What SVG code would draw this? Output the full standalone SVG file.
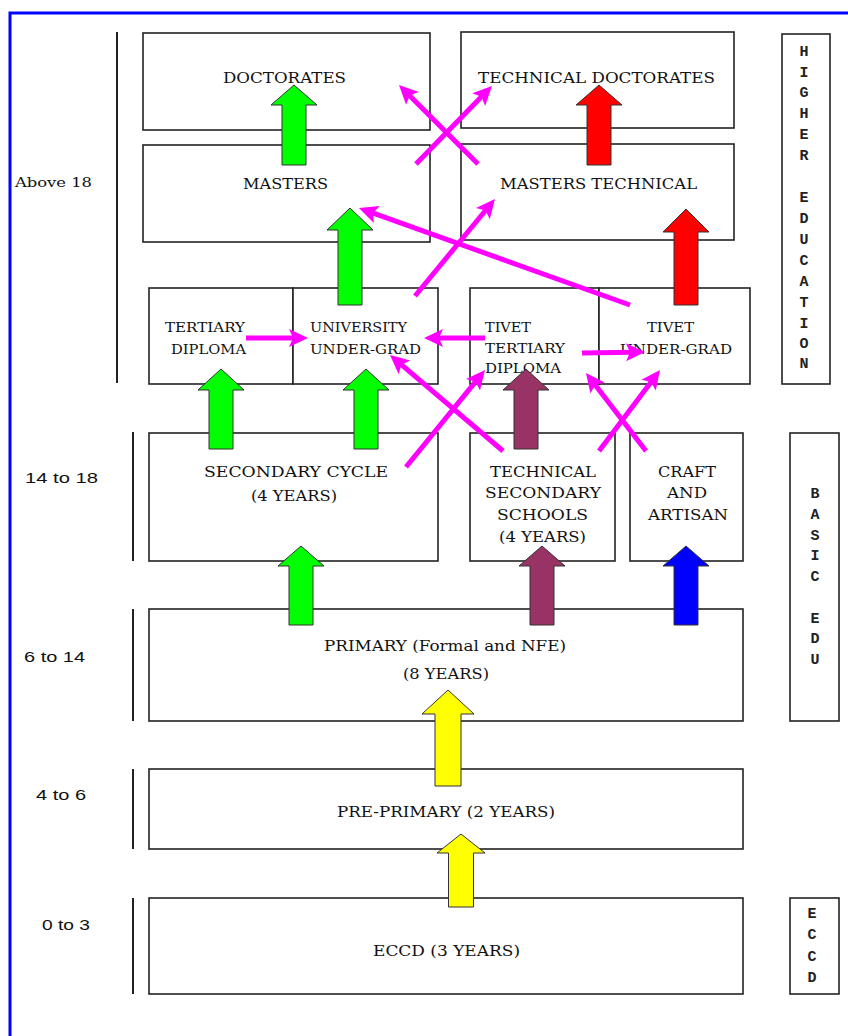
<svg xmlns="http://www.w3.org/2000/svg" width="848" height="1036" viewBox="0 0 848 1036">
<defs>
<style>
.box{fill:#fff;stroke:#222;stroke-width:1.6}
.sep{stroke:#222;stroke-width:2}
.t{font-family:"DejaVu Serif","Liberation Serif",serif;font-size:15px;fill:#111}
.s{font-family:"DejaVu Serif","Liberation Serif",serif;font-size:13px;fill:#111}
.age{font-family:"Liberation Sans",Arial,sans-serif;font-size:15px;fill:#111}
.side{font-family:"Liberation Mono","Courier New",monospace;font-size:15px;font-weight:bold;fill:#222;text-anchor:middle}
.blk{stroke:#333;stroke-width:1;stroke-linejoin:miter}
.g{fill:#00FF00}.r{fill:#FF0000}.p{fill:#993366}.b{fill:#0000FF}.y{fill:#FFFF00}
.m{stroke:#FF00FF;stroke-width:5;fill:none;marker-end:url(#mh)}
</style>
<marker id="mh" viewBox="-8 -10 24 20" refX="0" refY="0" markerWidth="24" markerHeight="20" markerUnits="userSpaceOnUse" orient="auto">
<path d="M13,0 L-6,-9 L-2,0 L-6,9 Z" fill="#FF00FF"/>
</marker>
</defs>
<rect width="848" height="1036" fill="#fff"/>
<path d="M10,1036 V13 H848" fill="none" stroke="#0000FF" stroke-width="3"/>

<g id="age-separators">
<line class="sep" x1="117" y1="32" x2="117" y2="383"/>
<line class="sep" x1="133" y1="432" x2="133" y2="561"/>
<line class="sep" x1="133" y1="609" x2="133" y2="721"/>
<line class="sep" x1="133" y1="769" x2="133" y2="849"/>
<line class="sep" x1="133" y1="898" x2="133" y2="994"/>
</g>
<g id="age-labels">
<text class="s" x="15" y="187" textLength="77" lengthAdjust="spacingAndGlyphs">Above 18</text>
<text class="age" x="25" y="483" textLength="73" lengthAdjust="spacingAndGlyphs">14 to 18</text>
<text class="age" x="24" y="662" textLength="61" lengthAdjust="spacingAndGlyphs">6 to 14</text>
<text class="age" x="36" y="800" textLength="50" lengthAdjust="spacingAndGlyphs">4 to 6</text>
<text class="age" x="42" y="930" textLength="48" lengthAdjust="spacingAndGlyphs">0 to 3</text>
</g>

<g id="doctorates">
<rect class="box" x="143" y="33" width="287" height="97"/>
<text class="t" x="223" y="83" textLength="123" lengthAdjust="spacingAndGlyphs">DOCTORATES</text>
</g>
<g id="technical-doctorates">
<rect class="box" x="461" y="32" width="273" height="96"/>
<text class="t" x="478" y="83" textLength="237" lengthAdjust="spacingAndGlyphs">TECHNICAL DOCTORATES</text>
</g>
<g id="masters">
<rect class="box" x="143" y="145" width="287" height="97"/>
<text class="t" x="243" y="189" textLength="85" lengthAdjust="spacingAndGlyphs">MASTERS</text>
</g>
<g id="masters-technical">
<rect class="box" x="461" y="144" width="273" height="96"/>
<text class="t" x="500" y="189" textLength="197" lengthAdjust="spacingAndGlyphs">MASTERS TECHNICAL</text>
</g>

<g id="tertiary-diploma">
<rect class="box" x="149" y="288" width="144" height="96"/>
<text class="s" x="165" y="332" textLength="80" lengthAdjust="spacingAndGlyphs">TERTIARY</text>
<text class="s" x="171" y="354" textLength="75" lengthAdjust="spacingAndGlyphs">DIPLOMA</text>
</g>
<g id="university-undergrad">
<rect class="box" x="293" y="288" width="145" height="96"/>
<text class="s" x="310" y="332" textLength="97" lengthAdjust="spacingAndGlyphs">UNIVERSITY</text>
<text class="s" x="310" y="354" textLength="111" lengthAdjust="spacingAndGlyphs">UNDER-GRAD</text>
</g>
<g id="tivet-tertiary-diploma">
<rect class="box" x="470" y="288" width="129" height="96"/>
<text class="s" x="485" y="332" textLength="46" lengthAdjust="spacingAndGlyphs">TIVET</text>
<text class="s" x="485" y="353" textLength="80" lengthAdjust="spacingAndGlyphs">TERTIARY</text>
<text class="s" x="485" y="373" textLength="76" lengthAdjust="spacingAndGlyphs">DIPLOMA</text>
</g>
<g id="tivet-undergrad">
<rect class="box" x="599" y="288" width="151" height="96"/>
<text class="s" x="647" y="332" textLength="47" lengthAdjust="spacingAndGlyphs">TIVET</text>
<text class="s" x="620" y="354" textLength="112" lengthAdjust="spacingAndGlyphs">UNDER-GRAD</text>
</g>

<g id="secondary-cycle">
<rect class="box" x="149" y="433" width="289" height="128"/>
<text class="t" x="204" y="477" textLength="184" lengthAdjust="spacingAndGlyphs">SECONDARY CYCLE</text>
<text class="t" x="251" y="501" textLength="86" lengthAdjust="spacingAndGlyphs">(4 YEARS)</text>
</g>
<g id="technical-secondary">
<rect class="box" x="470" y="433" width="145" height="128"/>
<text class="t" x="490" y="477" textLength="106" lengthAdjust="spacingAndGlyphs">TECHNICAL</text>
<text class="t" x="485" y="498" textLength="116" lengthAdjust="spacingAndGlyphs">SECONDARY</text>
<text class="t" x="497" y="520" textLength="91" lengthAdjust="spacingAndGlyphs">SCHOOLS</text>
<text class="t" x="499" y="542" textLength="87" lengthAdjust="spacingAndGlyphs">(4 YEARS)</text>
</g>
<g id="craft-artisan">
<rect class="box" x="630" y="433" width="113" height="128"/>
<text class="t" x="658" y="477" textLength="58" lengthAdjust="spacingAndGlyphs">CRAFT</text>
<text class="t" x="667" y="498" textLength="40" lengthAdjust="spacingAndGlyphs">AND</text>
<text class="t" x="648" y="520" textLength="80" lengthAdjust="spacingAndGlyphs">ARTISAN</text>
</g>

<g id="primary">
<rect class="box" x="149" y="609" width="594" height="112"/>
<text class="t" x="324" y="651" textLength="242" lengthAdjust="spacingAndGlyphs">PRIMARY (Formal and NFE)</text>
<text class="t" x="403" y="679" textLength="86" lengthAdjust="spacingAndGlyphs">(8 YEARS)</text>
</g>
<g id="pre-primary">
<rect class="box" x="149" y="769" width="594" height="80"/>
<text class="t" x="337" y="817" textLength="218" lengthAdjust="spacingAndGlyphs">PRE-PRIMARY (2 YEARS)</text>
</g>
<g id="eccd">
<rect class="box" x="149" y="898" width="594" height="96"/>
<text class="t" x="373" y="956" textLength="147" lengthAdjust="spacingAndGlyphs">ECCD (3 YEARS)</text>
</g>

<g id="higher-education">
<rect class="box" x="782" y="34" width="48" height="350"/>
<text class="side" x="804" y="56">H</text>
<text class="side" x="804" y="77">I</text>
<text class="side" x="804" y="97">G</text>
<text class="side" x="804" y="118">H</text>
<text class="side" x="804" y="139">E</text>
<text class="side" x="804" y="160">R</text>
<text class="side" x="804" y="202">E</text>
<text class="side" x="804" y="223">D</text>
<text class="side" x="804" y="244">U</text>
<text class="side" x="804" y="265">C</text>
<text class="side" x="804" y="286">A</text>
<text class="side" x="804" y="307">T</text>
<text class="side" x="804" y="328">I</text>
<text class="side" x="804" y="348">O</text>
<text class="side" x="804" y="368">N</text>
</g>
<g id="basic-edu">
<rect class="box" x="790" y="433" width="49" height="288"/>
<text class="side" x="815" y="498">B</text>
<text class="side" x="815" y="519">A</text>
<text class="side" x="815" y="540">S</text>
<text class="side" x="815" y="560">I</text>
<text class="side" x="815" y="581">C</text>
<text class="side" x="815" y="623">E</text>
<text class="side" x="815" y="643">D</text>
<text class="side" x="815" y="664">U</text>
</g>
<g id="eccd-side">
<rect class="box" x="790" y="898" width="49" height="96"/>
<text class="side" x="812" y="918">E</text>
<text class="side" x="812" y="939">C</text>
<text class="side" x="812" y="961">C</text>
<text class="side" x="812" y="982">D</text>
</g>

<g id="connectors">
<path class="blk g" d="M294,85 L317,105 L306,105 L306,165 L282,165 L282,105 L271,105 Z"/>
<path class="blk g" d="M350,208 L373,230 L362,230 L362,305 L338,305 L338,230 L327,230 Z"/>
<path class="blk r" d="M599,85 L622,105 L611,105 L611,165 L587,165 L587,105 L576,105 Z"/>
<path class="blk r" d="M686,209 L709,232 L698,232 L698,305 L674,305 L674,232 L663,232 Z"/>
<path class="blk g" d="M221,369 L244,390 L233,390 L233,449 L209,449 L209,390 L198,390 Z"/>
<path class="blk g" d="M366,369 L389,390 L378,390 L378,449 L354,449 L354,390 L343,390 Z"/>
<path class="blk p" d="M526,369 L549,390 L538,390 L538,449 L514,449 L514,390 L503,390 Z"/>
<path class="blk g" d="M301,546 L324,566 L313,566 L313,625 L289,625 L289,566 L278,566 Z"/>
<path class="blk p" d="M542,546 L565,566 L554,566 L554,625 L530,625 L530,566 L519,566 Z"/>
<path class="blk b" d="M686,546 L709,566 L698,566 L698,625 L674,625 L674,566 L663,566 Z"/>
<path class="blk y" d="M448,690 L474,714 L461,714 L461,786 L435,786 L435,714 L422,714 Z"/>
<path class="blk y" d="M461,834 L485,853 L473.5,853 L473.5,907 L448.5,907 L448.5,853 L437,853 Z"/>
<line class="m" x1="416" y1="164" x2="482.9" y2="95.3"/>
<line class="m" x1="478" y1="164" x2="408.2" y2="94.2"/>
<line class="m" x1="630" y1="305" x2="371.2" y2="212.4"/>
<line class="m" x1="415" y1="296" x2="486.7" y2="209"/>
<line class="m" x1="246" y1="338" x2="295" y2="338"/>
<line class="m" x1="485" y1="338" x2="437" y2="338"/>
<line class="m" x1="582" y1="353" x2="632" y2="352.2"/>
<line class="m" x1="406" y1="467" x2="476.8" y2="380.1"/>
<line class="m" x1="503" y1="451" x2="399.9" y2="363.4"/>
<line class="m" x1="599" y1="451" x2="652.2" y2="380.4"/>
<line class="m" x1="646" y1="451" x2="593.9" y2="383.3"/>
</g>
</svg>
